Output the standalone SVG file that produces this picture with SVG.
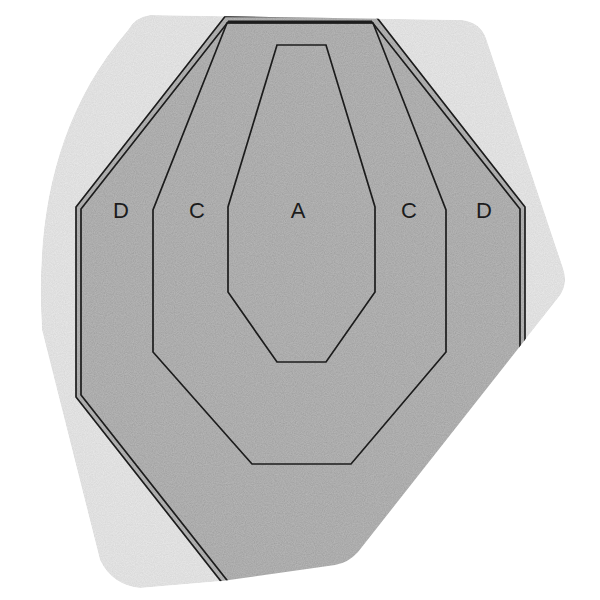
<svg xmlns="http://www.w3.org/2000/svg" width="600" height="600" viewBox="0 0 600 600">
  <style>
    .ln { fill: none; stroke: #1c1c1c; stroke-width: 1.7; stroke-linejoin: miter; }
    .lbl { font-family: "Liberation Sans", Arial, sans-serif; font-size: 22px; fill: #1c1c1c; text-anchor: middle; }
  </style>
  <defs>
    <path id="blobShape" d="M 150,15 L 462,20 Q 480,22 486,38 L 563,268 Q 569,285 558,298 L 358,552 Q 348,563 335,565 L 222,581 L 140,588 Q 112,585 100,560 L 42,330 C 36,230 50,120 128,30 Q 135,17 150,15 Z"/>
    <clipPath id="blobClip"><use href="#blobShape"/></clipPath>
    <filter id="grain" x="0" y="0" width="600" height="600" filterUnits="userSpaceOnUse">
      <feTurbulence type="fractalNoise" baseFrequency="0.9" numOctaves="2" seed="4" result="n"/>
      <feColorMatrix in="n" type="saturate" values="0" result="g"/>
      <feComponentTransfer in="g" result="ga"><feFuncA type="table" tableValues="0.2 0.2"/></feComponentTransfer>
      <feComposite in="ga" in2="SourceGraphic" operator="in" result="gc"/>
      <feMerge><feMergeNode in="SourceGraphic"/><feMergeNode in="gc"/></feMerge>
    </filter>
  </defs>
  <rect width="600" height="600" fill="#ffffff"/>
  <g id="target" clip-path="url(#blobClip)">
    <g filter="url(#grain)">
      <use id="backing" href="#blobShape" fill="#e8e8e8"/>
      <polygon id="zoneD-fill" points="225,16 376,16 525,207 525,650 275,650 76,397 76,207" fill="#a8a8a8"/>
    </g>
    <g id="connectors">
      <polygon id="outerLine" class="ln" points="225,16.5 376,16.5 525,207 525,650 275,650 76,397 76,207"/>
      <polygon id="innerLine" class="ln" points="228,22 372,22 520,209 520,650 282,650 81,395 81,209"/>
      <line x1="228" y1="22" x2="372" y2="22" stroke="#1c1c1c" stroke-width="3"/>
      <polygon id="zoneC" class="ln" points="227,23 373,23 446,210 446,352 351,464 252,464 153,352 153,210"/>
      <polygon id="zoneA" class="ln" points="277,45 326,45 375,207 375,292 326,362 277,362 228,292 228,207"/>
    </g>
  </g>
  <g id="labels">
    <text class="lbl" x="121" y="217.5">D</text>
    <text class="lbl" x="197" y="217.5">C</text>
    <text class="lbl" x="298" y="217.5">A</text>
    <text class="lbl" x="409" y="217.5">C</text>
    <text class="lbl" x="484" y="217.5">D</text>
  </g>
</svg>
